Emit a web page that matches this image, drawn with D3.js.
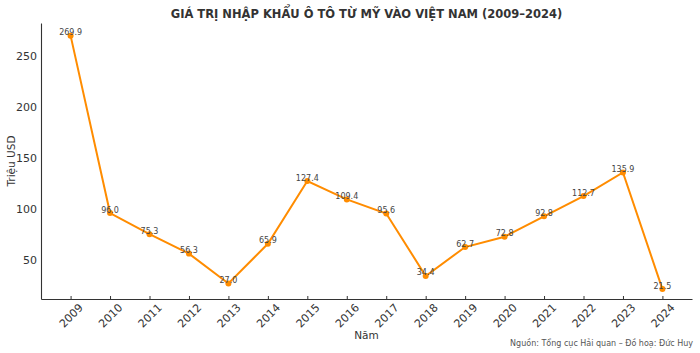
<!DOCTYPE html>
<html>
<head>
<meta charset="utf-8">
<script src="https://cdn.jsdelivr.net/npm/d3@7"></script>
<style>
  body { margin: 0; background: #fff; }
  svg text { font-family: "DejaVu Sans", sans-serif; }
</style>
</head>
<body>
<div id="chart"></div>
<script>
// data
var years = [2009, 2010, 2011, 2012, 2013, 2014, 2015, 2016, 2017, 2018, 2019, 2020, 2021, 2022, 2023, 2024];
var values = [269.9, 96.0, 75.3, 56.3, 27.0, 65.9, 127.4, 109.4, 95.6, 34.4, 62.7, 72.8, 92.8, 112.7, 135.9, 21.5];
var yTicks = [50, 100, 150, 200, 250];
var yDomain = [11.8, 282.3];

var width = 700;
var height = 353;
var margin = { top: 23, right: 8, bottom: 54, left: 41 };

var svg = d3.select('#chart')
  .append('svg')
  .attr('width', width)
  .attr('height', height);

var x = d3.scaleLinear()
  .domain([2008.25, 2024.75])
  .range([margin.left, width - margin.right]);

var y = d3.scaleLinear()
  .domain(yDomain)
  .range([height - margin.bottom, margin.top]);

// axes
var xAxis = svg.append('g')
  .attr('transform', 'translate(0,' + (height - margin.bottom) + ')')
  .call(d3.axisBottom(x).tickValues(years).tickFormat(d3.format('d')).tickSizeInner(-3).tickSizeOuter(0));

// matplotlib style: rotated about the label centre
xAxis.selectAll('text')
  .attr('x', 0)
  .attr('y', 0)
  .attr('dy', '0.35em')
  .attr('text-anchor', 'middle')
  .attr('transform', 'translate(0,16.5) rotate(-45)')
  .style('font-size', '11px')
  .attr('fill', '#333');

var yAxis = svg.append('g')
  .attr('transform', 'translate(' + margin.left + ',0)')
  .call(d3.axisLeft(y).tickValues(yTicks).tickSize(0).tickPadding(4));

yAxis.selectAll('text')
  .style('font-size', '11px')
  .attr('fill', '#333');

svg.selectAll('.domain').attr('stroke', '#333').attr('stroke-width', 1.1);
svg.selectAll('.tick line').attr('stroke', '#333');

// line
var line = d3.line()
  .x(function (d, i) { return x(years[i]); })
  .y(function (d) { return y(d); });

svg.append('path')
  .datum(values)
  .attr('fill', 'none')
  .attr('stroke', '#ff8c00')
  .attr('stroke-width', 2)
  .attr('d', line);

svg.selectAll('.dot')
  .data(values)
  .enter()
  .append('circle')
  .attr('class', 'dot')
  .attr('cx', function (d, i) { return x(years[i]); })
  .attr('cy', function (d) { return y(d); })
  .attr('r', 3)
  .attr('fill', '#ff8c00');

svg.selectAll('.lbl')
  .data(values)
  .enter()
  .append('text')
  .attr('class', 'lbl')
  .attr('x', function (d, i) { return x(years[i]); })
  .attr('y', function (d) { return y(d) - 0.5; })
  .attr('text-anchor', 'middle')
  .style('font-size', '8px')
  .attr('fill', '#444')
  .text(function (d) { return d.toFixed(1); });

// titles
svg.append('text')
  .attr('x', (margin.left + width - margin.right) / 2)
  .attr('y', 18)
  .attr('text-anchor', 'middle')
  .style('font-size', '11.5px')
  .style('font-weight', 'bold')
  .attr('fill', '#333')
  .text('GIÁ TRỊ NHẬP KHẨU Ô TÔ TỪ MỸ VÀO VIỆT NAM (2009–2024)');

svg.append('text')
  .attr('x', (margin.left + width - margin.right) / 2)
  .attr('y', 339)
  .attr('text-anchor', 'middle')
  .style('font-size', '10.5px')
  .attr('fill', '#333')
  .text('Năm');

svg.append('text')
  .attr('transform', 'translate(15,' + ((margin.top + height - margin.bottom) / 2) + ') rotate(-90)')
  .attr('text-anchor', 'middle')
  .style('font-size', '10.5px')
  .attr('fill', '#333')
  .text('Triệu USD');

svg.append('text')
  .attr('x', 693)
  .attr('y', 346)
  .attr('text-anchor', 'end')
  .style('font-size', '8px')
  .attr('fill', '#555')
  .text('Nguồn: Tổng cục Hải quan – Đồ hoạ: Đức Huy');
</script>
</body>
</html>
